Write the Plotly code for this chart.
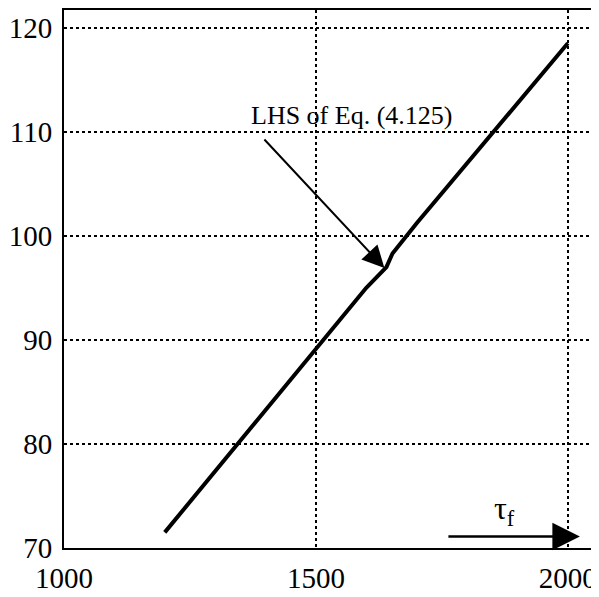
import plotly.graph_objects as go

tau_f = [1200, 1300, 1400, 1500, 1600, 1640, 1652, 1700, 1800, 1900, 2000]
lhs = [71.5, 77.4, 83.3, 89.2, 95.0, 97.0, 98.3, 101.2, 107.0, 112.8, 118.5]

x_ticks = [1000, 1500, 2000]
y_ticks = [70, 80, 90, 100, 110, 120]

font = "Liberation Serif"

fig = go.Figure()
fig.add_trace(go.Scatter(x=tau_f, y=lhs, mode="lines",
                         line=dict(color="black", width=4), showlegend=False))

axis_common = dict(showline=True, linecolor="black", linewidth=2, mirror=True,
                   showgrid=True, gridcolor="black", griddash="dot", gridwidth=1.5,
                   zeroline=False, ticks="", automargin=False,
                   tickfont=dict(family=font, size=29, color="black"))

fig.update_xaxes(range=[1000, 2050], tickvals=x_ticks, ticklabelstandoff=3, **axis_common)
fig.update_yaxes(range=[70, 121.7], tickvals=y_ticks, ticklabelstandoff=4, **axis_common)

fig.add_annotation(x=1636, y=96.9, ax=1395, ay=109.4, axref="x", ayref="y",
                   xref="x", yref="y", showarrow=True, arrowhead=2, arrowsize=2.2,
                   arrowwidth=2, arrowcolor="black", text="")
fig.add_annotation(x=1570, y=111.6, xref="x", yref="y", showarrow=False,
                   text="LHS of Eq. (4.125)", font=dict(family=font, size=26, color="black"))
fig.add_annotation(x=2024, y=71.1, ax=1760, ay=71.1, axref="x", ayref="y",
                   xref="x", yref="y", showarrow=True, arrowhead=2, arrowsize=2.2,
                   arrowwidth=2.5, arrowcolor="black", text="")
fig.add_annotation(x=1875, y=73.6, xref="x", yref="y", showarrow=False,
                   text="τ<sub>f</sub>", font=dict(family=font, size=32, color="black"))

fig.update_layout(width=591, height=589, margin=dict(l=56, r=6, t=2, b=49),
                  plot_bgcolor="white", paper_bgcolor="white")

fig.write_html("out.html")
